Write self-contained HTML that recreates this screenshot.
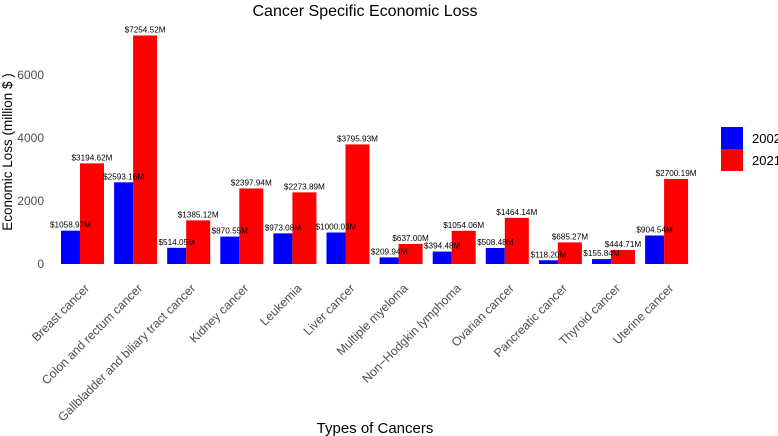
<!DOCTYPE html>
<html><head><meta charset="utf-8"><style>
body{margin:0;background:#fff;}
svg{display:block;font-family:"Liberation Sans",sans-serif;}
</style></head><body>
<svg id="chart" width="778" height="436">
<text x="365" y="16" text-anchor="middle" font-size="16" fill="#000">Cancer Specific Economic Loss</text>
<text transform="translate(12,152) rotate(-90)" text-anchor="middle" font-size="13.5" fill="#000">Economic Loss (million $ )</text>
<text x="375" y="433" text-anchor="middle" font-size="15" fill="#000">Types of Cancers</text>
<g id="yaxis"></g><g id="bars"></g><g id="labels"></g><g id="xaxis"></g>
<g>
<rect x="721" y="127" width="22" height="22" fill="#0000ff"/>
<text x="752" y="143" font-size="13">2002</text>
<rect x="721" y="149" width="22" height="22" fill="#ff0000"/>
<text x="752" y="165" font-size="13">2021</text>
</g>
</svg>
<script>
const categories=["Breast cancer","Colon and rectum cancer","Gallbladder and biliary tract cancer","Kidney cancer","Leukemia","Liver cancer","Multiple myeloma","Non−Hodgkin lymphoma","Ovarian cancer","Pancreatic cancer","Thyroid cancer","Uterine cancer"];
const values2002=[1058.97,2593.16,514.05,870.55,973.08,1000.03,209.94,394.48,508.48,118.20,155.84,904.54];
const values2021=[3194.62,7254.52,1385.12,2397.94,2273.89,3795.93,637.00,1054.06,1464.14,685.27,444.71,2700.19];
const yTicks=[0,2000,4000,6000];
const NS="http://www.w3.org/2000/svg";
const y0=264, pxPer=63/2000, x0=80, step=53.1, bwB=19, bwR=24;
const yScale=v=>y0-v*pxPer;
const xScale=i=>x0+i*step;
function mk(tag,attrs,parent){const e=document.createElementNS(NS,tag);for(const k in attrs)e.setAttribute(k,attrs[k]);parent.appendChild(e);return e;}
const ya=document.getElementById('yaxis'),bars=document.getElementById('bars'),lab=document.getElementById('labels'),xa=document.getElementById('xaxis');
yTicks.forEach(t=>{const e=mk('text',{x:44,y:yScale(t)+4,'text-anchor':'end','font-size':12,fill:'#4d4d4d'},ya);e.textContent=t;

});
categories.forEach((c,i)=>{
 const cx=xScale(i);
 [[values2002[i],'#0000ff',cx-bwB,bwB,'2002'],[values2021[i],'#ff0000',cx,bwR,'2021']].forEach(([v,col,x,w,yr])=>{
  const r=mk('rect',{x:x,y:yScale(v),width:w,height:v*pxPer,fill:col},bars);
  
  
  const t=mk('text',{x:x+w/2,y:yScale(v)-3,'text-anchor':'middle','font-size':8.2,fill:'#000'},lab);
  t.textContent='$'+v.toFixed(2)+'M';
  
  
 });
 const l=mk('text',{transform:`translate(${cx+10},${289}) rotate(-45)`,'text-anchor':'end','font-size':12.2,fill:'#4d4d4d'},xa);
 l.textContent=c;
 
 
});
</script>
</body></html>
